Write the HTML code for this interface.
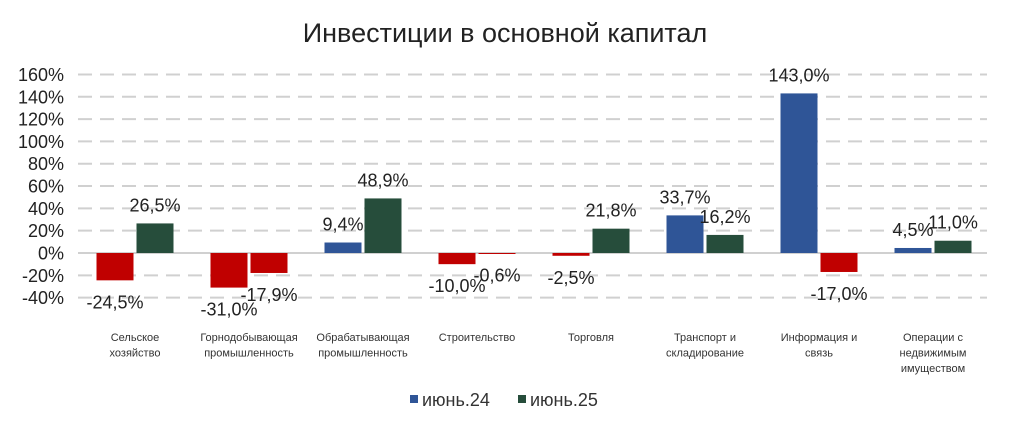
<!DOCTYPE html>
<html><head><meta charset="utf-8">
<style>
html,body{margin:0;padding:0;background:#fff;}
svg{display:block;font-family:"Liberation Sans",sans-serif;}
</style></head>
<body>
<svg id="chart" width="1009" height="428" viewBox="0 0 1009 428" xmlns="http://www.w3.org/2000/svg">
<text x="505" y="42" text-anchor="middle" font-size="27" fill="#222">Инвестиции в основной капитал</text>
<g id="grid"></g>
<g id="yaxis"></g>
<g id="bars"></g>
<g id="labels"></g>
<g id="xaxis"></g>
<g>
  <g>
    <rect x="410" y="395" width="8" height="8" fill="#2F5597"/>
    <text x="422" y="406" font-size="18" fill="#333">июнь.24</text>
  </g>
  <g>
    <rect x="518" y="395" width="8" height="8" fill="#264D3B"/>
    <text x="530" y="406" font-size="18" fill="#333">июнь.25</text>
  </g>
</g>
</svg>
<script>
const categories = [["Сельское","хозяйство"],["Горнодобывающая","промышленность"],["Обрабатывающая","промышленность"],["Строительство"],["Торговля"],["Транспорт  и","складирование"],["Информация  и","связь"],["Операции  с","недвижимым","имуществом"]];
const seriesJune24 = [-24.5,-31.0,9.4,-10.0,-2.5,33.7,143.0,4.5];
const seriesJune25 = [26.5,-17.9,48.9,-0.6,21.8,16.2,-17.0,11.0];
const yTicks = [160,140,120,100,80,60,40,20,0,-20,-40];

const NS="http://www.w3.org/2000/svg";
const x0=78, x1=990, yZero=253, pxPer=1.116;
const band=(x1-x0)/categories.length;
function yScale(v){return yZero - v*pxPer;}
function xCenter(i){return x0+band*(i+0.5);}
function mk(tag,attrs,parent,text){const e=document.createElementNS(NS,tag);for(const k in attrs)e.setAttribute(k,attrs[k]);if(text!==undefined)e.textContent=text;parent.appendChild(e);return e;}
const grid=document.getElementById('grid'),yax=document.getElementById('yaxis'),bars=document.getElementById('bars'),labels=document.getElementById('labels'),xax=document.getElementById('xaxis');
yTicks.forEach(t=>{
  const y=yScale(t);
  const l=mk('line',{x1:x0,x2:x1-3,y1:y,y2:y,stroke:'#d0d0d0','stroke-width':2,'stroke-dasharray':t===0?'none':'14,8'},grid);
  
  
  const tx=mk('text',{x:64,y:y+6.5,'text-anchor':'end','font-size':18,fill:'#222'},yax,t+'%');
  
  
});
function fmt(v){return v.toFixed(1).replace('.',',')+'%';}
[[seriesJune24,'#2F5597',-1],[seriesJune25,'#264D3B',1]].forEach(([s,col,side])=>{
  s.forEach((v,i)=>{
    const c=xCenter(i);
    const bx= side<0 ? c-38.5 : c+1.5;
    const w=37;
    const yTop=Math.min(yScale(v),yZero), h=Math.abs(yScale(v)-yZero);
    const r=mk('rect',{x:bx,y:yTop,width:w,height:Math.max(h,1),fill:v<0?'#C00000':col},bars);
    
    
    const ly = v<0 ? yScale(v)+28 : yScale(v)-12;
    const t=mk('text',{x:bx+w/2,y:ly,'text-anchor':'middle','font-size':18,fill:'#222'},labels,fmt(v));
    
    
  });
});
categories.forEach((lines,i)=>{
  const t=mk('text',{'text-anchor':'middle','font-size':11,fill:'#333'},xax);
  
  
  lines.forEach((ln,j)=>{mk('tspan',{x:xCenter(i),y:341+j*15.5,'xml:space':'preserve'},t,ln);});
});
</script>
</body></html>
